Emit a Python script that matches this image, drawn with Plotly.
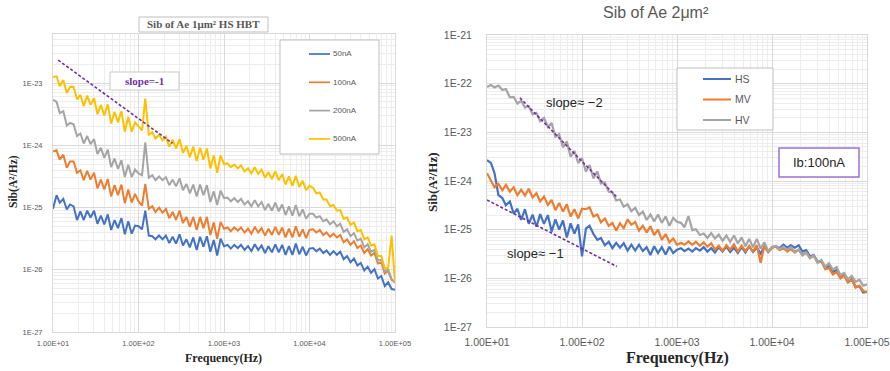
import math
import plotly.graph_objects as go

# ---------------------------------------------------------------- data
# frequency grid: 25 log-spaced points per decade, 10 Hz .. 100 kHz
FREQ_MANTISSA = [1.00, 1.10, 1.20, 1.32, 1.45, 1.58, 1.74, 1.91, 2.09, 2.29,
                 2.51, 2.75, 3.02, 3.31, 3.63, 3.98, 4.37, 4.79, 5.25, 5.75,
                 6.31, 6.92, 7.59, 8.32, 9.12]
FREQ_DECADES = [1e1, 1e2, 1e3, 1e4]
FREQ_HZ = [m * d for d in FREQ_DECADES for m in FREQ_MANTISSA] + [1e5]

# Ae 1um^2 HS HBT, log10 of Sib (A^2/Hz) per bias current
LOG_SIB_50NA = [
    -25.02, -24.80, -24.92, -24.86, -25.03, -24.95, -24.98, -25.20, -25.06, -25.20,
    -25.05, -25.16, -25.05, -25.26, -25.13, -25.27, -25.11, -25.36, -25.20, -25.33,
    -25.17, -25.43, -25.22, -25.42, -25.29, -25.30, -25.35, -25.05, -25.45, -25.46,
    -25.51, -25.45, -25.51, -25.45, -25.57, -25.47, -25.58, -25.43, -25.61, -25.51,
    -25.64, -25.48, -25.68, -25.47, -25.63, -25.46, -25.71, -25.52, -25.77, -25.50,
    -25.62, -25.60, -25.66, -25.60, -25.65, -25.60, -25.68, -25.62, -25.70, -25.59,
    -25.68, -25.61, -25.73, -25.62, -25.72, -25.59, -25.72, -25.60, -25.76, -25.62,
    -25.76, -25.58, -25.75, -25.63, -25.77, -25.66, -25.65, -25.70, -25.66, -25.73,
    -25.69, -25.76, -25.70, -25.76, -25.71, -25.83, -25.78, -25.88, -25.82, -25.93,
    -25.89, -26.01, -25.95, -26.05, -25.99, -26.14, -26.10, -26.26, -26.20, -26.31,
    -26.32]
LOG_SIB_100NA = [
    -24.10, -24.08, -24.23, -24.15, -24.36, -24.26, -24.26, -24.44, -24.40, -24.56,
    -24.41, -24.55, -24.44, -24.69, -24.55, -24.71, -24.54, -24.82, -24.64, -24.80,
    -24.63, -24.93, -24.71, -24.92, -24.78, -24.90, -24.97, -24.62, -25.02, -24.98,
    -25.07, -25.00, -25.08, -25.02, -25.17, -25.07, -25.20, -25.05, -25.25, -25.15,
    -25.31, -25.15, -25.36, -25.15, -25.33, -25.15, -25.44, -25.24, -25.50, -25.23,
    -25.34, -25.32, -25.38, -25.32, -25.37, -25.32, -25.40, -25.34, -25.42, -25.31,
    -25.40, -25.33, -25.45, -25.34, -25.44, -25.31, -25.44, -25.32, -25.48, -25.34,
    -25.48, -25.30, -25.47, -25.35, -25.49, -25.36, -25.35, -25.40, -25.36, -25.44,
    -25.40, -25.47, -25.42, -25.48, -25.44, -25.56, -25.51, -25.60, -25.54, -25.65,
    -25.61, -25.73, -25.67, -25.77, -25.73, -25.90, -25.88, -26.06, -26.02, -26.16,
    -26.20]
LOG_SIB_200NA = [
    -23.27, -23.30, -23.48, -23.45, -23.68, -23.64, -23.66, -23.85, -23.81, -23.97,
    -23.85, -23.98, -23.90, -24.14, -24.04, -24.20, -24.07, -24.35, -24.21, -24.38,
    -24.24, -24.51, -24.31, -24.51, -24.39, -24.45, -24.48, -23.95, -24.52, -24.48,
    -24.56, -24.50, -24.56, -24.51, -24.64, -24.55, -24.66, -24.53, -24.72, -24.62,
    -24.77, -24.63, -24.82, -24.63, -24.80, -24.64, -24.91, -24.74, -24.96, -24.73,
    -24.85, -24.84, -24.90, -24.85, -24.91, -24.86, -24.95, -24.90, -24.98, -24.88,
    -24.98, -24.91, -25.04, -24.94, -25.05, -24.92, -25.06, -24.95, -25.12, -24.98,
    -25.13, -24.96, -25.14, -25.03, -25.18, -25.10, -25.10, -25.16, -25.14, -25.22,
    -25.19, -25.27, -25.22, -25.30, -25.26, -25.39, -25.35, -25.46, -25.41, -25.53,
    -25.50, -25.64, -25.59, -25.71, -25.68, -25.85, -25.84, -26.03, -26.00, -26.15,
    -26.20]
LOG_SIB_500NA = [
    -22.90, -22.89, -23.05, -22.95, -23.16, -23.06, -23.06, -23.26, -23.19, -23.37,
    -23.20, -23.35, -23.24, -23.50, -23.35, -23.52, -23.34, -23.65, -23.46, -23.63,
    -23.45, -23.78, -23.54, -23.78, -23.63, -23.70, -23.76, -23.25, -23.83, -23.79,
    -23.89, -23.83, -23.92, -23.86, -24.02, -23.91, -24.05, -23.90, -24.12, -24.01,
    -24.19, -24.02, -24.25, -24.04, -24.23, -24.05, -24.37, -24.16, -24.44, -24.16,
    -24.30, -24.29, -24.35, -24.31, -24.37, -24.32, -24.42, -24.37, -24.45, -24.35,
    -24.46, -24.39, -24.52, -24.43, -24.54, -24.42, -24.56, -24.46, -24.63, -24.50,
    -24.65, -24.49, -24.67, -24.57, -24.72, -24.65, -24.68, -24.77, -24.76, -24.87,
    -24.87, -24.98, -24.96, -25.05, -25.04, -25.18, -25.16, -25.28, -25.24, -25.38,
    -25.36, -25.51, -25.48, -25.61, -25.59, -25.78, -25.78, -25.98, -25.97, -25.45,
    -26.20]

# Ae 2um^2 at Ib = 100nA, log10 of Sib (A^2/Hz) per device flavour
LOG_SIB_HS = [
    -23.57, -23.63, -23.84, -24.29, -24.35, -24.50, -24.42, -24.67, -24.57, -24.80,
    -24.58, -24.88, -24.69, -24.94, -24.68, -24.88, -24.70, -25.04, -24.79, -25.00,
    -24.81, -25.16, -24.87, -25.08, -24.89, -25.55, -24.98, -24.92, -25.09, -25.21,
    -25.17, -25.32, -25.25, -25.38, -25.27, -25.37, -25.28, -25.43, -25.31, -25.43,
    -25.31, -25.44, -25.36, -25.52, -25.34, -25.48, -25.36, -25.51, -25.35, -25.48,
    -25.41, -25.38, -25.44, -25.39, -25.45, -25.38, -25.43, -25.36, -25.45, -25.38,
    -25.47, -25.36, -25.45, -25.35, -25.46, -25.37, -25.48, -25.36, -25.47, -25.34,
    -25.46, -25.37, -25.49, -25.35, -25.46, -25.37, -25.34, -25.38, -25.31, -25.37,
    -25.32, -25.37, -25.32, -25.45, -25.42, -25.55, -25.52, -25.66, -25.65, -25.79,
    -25.75, -25.87, -25.83, -25.99, -25.93, -26.08, -26.02, -26.18, -26.16, -26.29,
    -26.28]
LOG_SIB_MV = [
    -23.84, -24.00, -24.13, -24.06, -24.19, -24.08, -24.22, -24.13, -24.29, -24.18,
    -24.30, -24.16, -24.34, -24.25, -24.42, -24.32, -24.49, -24.39, -24.60, -24.45,
    -24.63, -24.48, -24.73, -24.58, -24.77, -24.57, -24.58, -24.54, -24.73, -24.69,
    -24.85, -24.77, -24.92, -24.86, -25.02, -24.87, -24.97, -24.79, -24.90, -24.84,
    -25.02, -24.92, -25.06, -24.93, -25.11, -25.00, -25.21, -25.09, -25.26, -25.18,
    -25.31, -25.27, -25.31, -25.24, -25.31, -25.25, -25.33, -25.26, -25.35, -25.28,
    -25.41, -25.33, -25.43, -25.32, -25.41, -25.30, -25.45, -25.33, -25.44, -25.34,
    -25.45, -25.32, -25.68, -25.33, -25.46, -25.37, -25.35, -25.42, -25.38, -25.45,
    -25.40, -25.47, -25.41, -25.52, -25.47, -25.57, -25.54, -25.67, -25.64, -25.81,
    -25.79, -25.92, -25.87, -26.00, -25.94, -26.08, -26.03, -26.19, -26.15, -26.26,
    -26.28]
LOG_SIB_HV = [
    -22.07, -22.03, -22.08, -22.04, -22.13, -22.11, -22.28, -22.27, -22.41, -22.35,
    -22.49, -22.46, -22.63, -22.60, -22.77, -22.70, -22.89, -22.81, -23.09, -23.04,
    -23.31, -23.19, -23.50, -23.38, -23.63, -23.53, -23.81, -23.67, -23.95, -23.80,
    -24.05, -24.03, -24.22, -24.23, -24.40, -24.38, -24.53, -24.48, -24.62, -24.55,
    -24.70, -24.63, -24.80, -24.69, -24.83, -24.69, -24.86, -24.73, -24.92, -24.76,
    -24.84, -24.86, -24.95, -24.72, -25.01, -24.99, -25.11, -25.08, -25.17, -25.07,
    -25.18, -25.10, -25.23, -25.12, -25.25, -25.12, -25.28, -25.16, -25.34, -25.19,
    -25.36, -25.19, -25.39, -25.26, -25.44, -25.35, -25.34, -25.40, -25.35, -25.41,
    -25.36, -25.45, -25.41, -25.53, -25.47, -25.59, -25.53, -25.68, -25.62, -25.76,
    -25.69, -25.82, -25.77, -25.93, -25.89, -26.02, -25.95, -26.07, -26.03, -26.15,
    -26.13]

LEFT_NAMES = ["50nA", "100nA", "200nA", "500nA"]
LEFT_LOG_SIB = [LOG_SIB_50NA, LOG_SIB_100NA, LOG_SIB_200NA, LOG_SIB_500NA]
LEFT_COLORS = ["#4472C4", "#ED7D31", "#A5A5A5", "#FFC000"]

RIGHT_NAMES = ["HS", "MV", "HV"]
RIGHT_LOG_SIB = [LOG_SIB_HS, LOG_SIB_MV, LOG_SIB_HV]
RIGHT_COLORS = ["#4472C4", "#ED7D31", "#A5A5A5"]

# slope guides: (axis, start freq Hz, log10 Sib at start, slope, end freq Hz)
SLOPE_GUIDES = [
    ("1", 11.5, -22.63, -1.0, 250.0),
    ("2", 22.2, -22.29, -2.0, 233.0),
    ("2", 10.0, -24.39, -1.0, 233.0),
]

X_TICK_EXP = [1, 2, 3, 4, 5]
X_TICK_TEXT = ["1.00E+01", "1.00E+02", "1.00E+03", "1.00E+04", "1.00E+05"]
Y_TICK_EXP = [-27, -26, -25, -24, -23, -22, -21]
Y_TICK_TEXT = ["1E-27", "1E-26", "1E-25", "1E-24", "1E-23", "1E-22", "1E-21"]

# ---------------------------------------------------------------- styling
W, H = 890, 371
SERIF = "Liberation Serif"
SANS = "Liberation Sans"
TXT = "#595959"
PURPLE = "#7030A0"
GRID = "#d9d9d9"
MINOR = "#ededed"


def px(x):
    return x / W


def py(y):
    return 1 - y / H


fig = go.Figure()


def add_series(names, logs, colors, axis, width):
    xa = "x" if axis == "1" else "x2"
    ya = "y" if axis == "1" else "y2"
    for name, lg, col in zip(names, logs, colors):
        fig.add_trace(go.Scatter(
            x=FREQ_HZ, y=[10 ** v for v in lg], name=name, mode="lines",
            line=dict(color=col, width=width), xaxis=xa, yaxis=ya,
            showlegend=False))


add_series(LEFT_NAMES, LEFT_LOG_SIB, LEFT_COLORS, "1", 2.0)
add_series(RIGHT_NAMES, RIGHT_LOG_SIB, RIGHT_COLORS, "2", 2.2)

for axis, f0, l0, slope, f1 in SLOPE_GUIDES:
    l1 = l0 + slope * (math.log10(f1) - math.log10(f0))
    fig.add_trace(go.Scatter(
        x=[f0, f1], y=[10 ** l0, 10 ** l1], mode="lines",
        line=dict(color=PURPLE, width=1.6, dash="3px,2px"),
        xaxis="x" if axis == "1" else "x2", yaxis="y" if axis == "1" else "y2",
        showlegend=False, hoverinfo="skip"))


def log_axis(domain, rng, tickvals, ticktext, font_size, standoff):
    return dict(
        type="log", domain=domain, range=rng, automargin=False,
        tickmode="array", tickvals=[10 ** v for v in tickvals], ticktext=ticktext,
        tickfont=dict(family=SANS, size=font_size, color=TXT),
        showgrid=True, gridcolor=GRID, gridwidth=1,
        minor=dict(showgrid=True, gridcolor=MINOR, gridwidth=1, dtick="D1"),
        showline=True, linecolor=GRID, linewidth=1, mirror=True,
        ticks="", zeroline=False, ticklabelstandoff=standoff)


fig.update_layout(
    width=W, height=H, margin=dict(l=0, r=0, t=0, b=0, autoexpand=False),
    paper_bgcolor="white", plot_bgcolor="white", showlegend=False,
    xaxis=log_axis([px(53), px(395)], [1, 5], X_TICK_EXP, X_TICK_TEXT, 7.5, 4),
    yaxis=log_axis([py(332), py(34)], [-27, -22.21], Y_TICK_EXP, Y_TICK_TEXT, 7.5, 8),
    xaxis2=log_axis([px(487), px(867)], [1, 5], X_TICK_EXP, X_TICK_TEXT, 10.5, 5),
    yaxis2=log_axis([py(327), py(35)], [-27, -21], Y_TICK_EXP, Y_TICK_TEXT, 10.5, 12),
)
fig.update_layout(yaxis2=dict(anchor="x2"), xaxis2=dict(anchor="y2"))

shapes = []
annotations = []


def box(x0, y0, x1, y1, color, width=1):
    shapes.append(dict(type="rect", xref="paper", yref="paper",
                       x0=px(x0), x1=px(x1), y0=py(y0), y1=py(y1),
                       line=dict(color=color, width=width), fillcolor="white",
                       layer="above"))


def text(x, y, s, family, size, color, bold=False, xanchor="center", angle=0):
    annotations.append(dict(
        x=px(x), y=py(y), xref="paper", yref="paper", text=f"<b>{s}</b>" if bold else s,
        showarrow=False, xanchor=xanchor, yanchor="middle", textangle=angle,
        font=dict(family=family, size=size, color=color)))


# left panel decorations
box(139, 17, 268, 32, "#bfbfbf")
text(203.5, 24.5, "Sib of Ae 1μm² HS HBT", SERIF, 11, TXT, bold=True)
text(13, 182, "Sib(A²/Hz)", SERIF, 11.5, "#262626", bold=True, angle=-90)
text(223, 358, "Frequency(Hz)", SERIF, 12, "#262626", bold=True)
box(110, 72, 179, 90, "#c9c9c9")
text(144.5, 81, "slope=-1", SERIF, 11, PURPLE, bold=True)

box(280, 40, 379, 154, "#bfbfbf")
for i, (name, col) in enumerate(zip(LEFT_NAMES, LEFT_COLORS)):
    yy = 54 + i * 28.3
    shapes.append(dict(type="line", xref="paper", yref="paper",
                       x0=px(309), x1=px(330), y0=py(yy), y1=py(yy),
                       line=dict(color=col, width=1.7), layer="above"))
    text(331, yy, name, SANS, 8, TXT, xanchor="left")

# right panel decorations
text(656, 12, "Sib of Ae 2μm²", SANS, 16, TXT)
text(432, 182, "Sib(A²/Hz)", SERIF, 13, "#262626", bold=True, angle=-90)
text(677, 358, "Frequency(Hz)", SERIF, 16, "#262626", bold=True)

box(677, 68, 773, 130, "#bfbfbf")
for i, (name, col) in enumerate(zip(RIGHT_NAMES, RIGHT_COLORS)):
    yy = 79 + i * 20.5
    shapes.append(dict(type="line", xref="paper", yref="paper",
                       x0=px(703), x1=px(731), y0=py(yy), y1=py(yy),
                       line=dict(color=col, width=2), layer="above"))
    text(733, yy, name, SANS, 10.5, TXT, xanchor="left")

box(779, 148, 859, 177, "#9b6fd3", width=1.5)
text(819, 162.5, "Ib:100nA", SANS, 13, "#262626")

text(574, 102, "slope≈ −2", SANS, 13, "#262626")
text(535, 253, "slope≈ −1", SANS, 13, "#262626")

fig.update_layout(shapes=shapes, annotations=annotations)
fig.write_html("out.html")
